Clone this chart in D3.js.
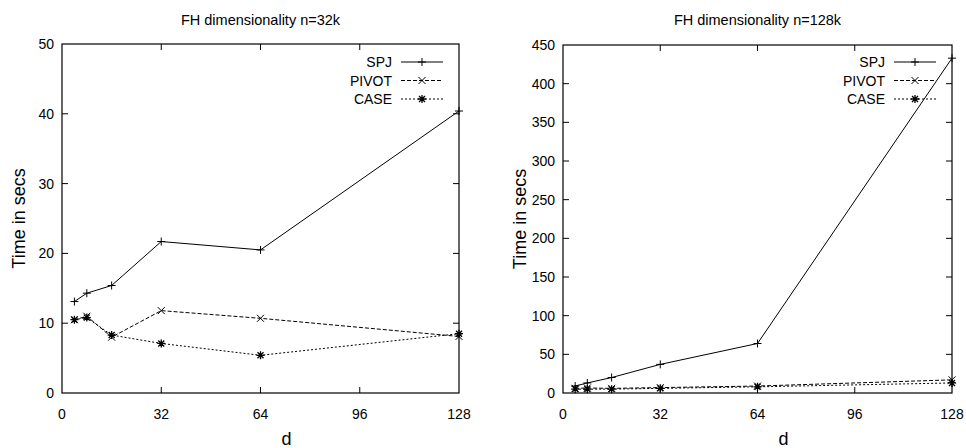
<!DOCTYPE html>
<html>
<head>
<meta charset="utf-8">
<script src="https://cdn.jsdelivr.net/npm/d3@7"></script>
<style>
  body { margin: 0; background: #fff; }
  svg { display: block; font-family: "Liberation Sans", Arial, sans-serif; }
</style>
</head>
<body>
<div id="chart"></div>
<script>
// Data
const dims = [4, 8, 16, 32, 64, 128];
const xTicks = [0, 32, 64, 96, 128];
const seriesNames = ["SPJ", "PIVOT", "CASE"];

const spj32 = [13.1, 14.3, 15.4, 21.7, 20.5, 40.4];
const pivot32 = [10.5, 11.0, 8.0, 11.8, 10.7, 8.1];
const case32 = [10.5, 10.8, 8.3, 7.1, 5.4, 8.5];
const yTicks32 = [0, 10, 20, 30, 40, 50];

const spj128 = [9, 13, 20, 37, 64, 433];
const pivot128 = [6, 6.5, 6, 7, 9, 17];
const case128 = [5, 5, 5, 6, 8, 13];
const yTicks128 = [0, 50, 100, 150, 200, 250, 300, 350, 400, 450];

const W = 966, H = 448;
const svg = d3.select("#chart").append("svg")
    .attr("width", W)
    .attr("height", H);

// dash styles / marker per series (gnuplot default look)
const dashes = ["none", "4,2", "2,2"];
const markers = ["plus", "cross", "star"];

function marker(g, kind, x, y) {
    const s = 4;
    const p = d3.path();
    if (kind === "plus" || kind === "star") {
        p.moveTo(x - s, y); p.lineTo(x + s, y);
        p.moveTo(x, y - s); p.lineTo(x, y + s);
    }
    if (kind === "cross" || kind === "star") {
        const c = kind === "star" ? 3 : 3.5;
        p.moveTo(x - c, y - c); p.lineTo(x + c, y + c);
        p.moveTo(x - c, y + c); p.lineTo(x + c, y - c);
    }
    g.append("path")
        .attr("d", p.toString())
        .attr("stroke", "#000")
        .attr("stroke-width", kind === "star" ? 1.3 : 1)
        .attr("fill", "none");
}

function panel(cfg) {
    const x = d3.scaleLinear().domain([0, 128]).range([cfg.left, cfg.right]);
    const y = d3.scaleLinear().domain([0, cfg.yMax]).range([cfg.bottom, cfg.top]);
    const g = svg.append("g");

    // frame
    g.append("rect")
        .attr("x", cfg.left).attr("y", cfg.top)
        .attr("width", cfg.right - cfg.left)
        .attr("height", cfg.bottom - cfg.top)
        .attr("fill", "none")
        .attr("stroke", "#000")
        .attr("stroke-width", 1.2);

    const tl = 6;
    // y ticks (mirrored)
    cfg.yTicks.forEach(t => {
        if (t > 0 && t < cfg.yMax) {
            g.append("line").attr("x1", cfg.left).attr("x2", cfg.left + tl)
                .attr("y1", y(t)).attr("y2", y(t)).attr("stroke", "#000");
            g.append("line").attr("x1", cfg.right).attr("x2", cfg.right - tl)
                .attr("y1", y(t)).attr("y2", y(t)).attr("stroke", "#000");
        }
        g.append("text")
            .attr("x", cfg.left - 8)
            .attr("y", y(t) + 5)
            .attr("text-anchor", "end")
            .attr("font-size", 14)
            .text(t);
    });
    // x ticks (mirrored)
    xTicks.forEach(t => {
        if (t > 0 && t < 128) {
            g.append("line").attr("x1", x(t)).attr("x2", x(t))
                .attr("y1", cfg.bottom).attr("y2", cfg.bottom - tl).attr("stroke", "#000");
            g.append("line").attr("x1", x(t)).attr("x2", x(t))
                .attr("y1", cfg.top).attr("y2", cfg.top + tl).attr("stroke", "#000");
        }
        g.append("text")
            .attr("x", x(t))
            .attr("y", cfg.bottom + 26)
            .attr("text-anchor", "middle")
            .attr("font-size", 14)
            .text(t);
    });

    // titles and axis labels
    g.append("text")
        .attr("x", (cfg.left + cfg.right) / 2)
        .attr("y", 25)
        .attr("text-anchor", "middle")
        .attr("font-size", 14.5)
        .text(cfg.title);
    g.append("text")
        .attr("x", (cfg.left + cfg.right) / 2 + 26)
        .attr("y", 445)
        .attr("text-anchor", "middle")
        .attr("font-size", 18)
        .text("d");
    g.append("text")
        .attr("transform", `translate(${cfg.left - 37},${(cfg.top + cfg.bottom) / 2}) rotate(-90)`)
        .attr("text-anchor", "middle")
        .attr("font-size", 18)
        .text("Time in secs");

    // series
    const line = d3.line()
        .x((d, i) => x(dims[i]))
        .y(d => y(d));
    cfg.series.forEach((vals, k) => {
        g.append("path")
            .datum(vals)
            .attr("d", line)
            .attr("fill", "none")
            .attr("stroke", "#000")
            .attr("stroke-width", 1)
            .attr("stroke-dasharray", dashes[k]);
        vals.forEach((v, i) => marker(g, markers[k], x(dims[i]), y(v)));
    });

    // legend
    seriesNames.forEach((name, k) => {
        const ly = 62 + k * 18.5;
        const lx = cfg.right - 67;
        g.append("text")
            .attr("x", lx)
            .attr("y", ly + 5)
            .attr("text-anchor", "end")
            .attr("font-size", 14)
            .text(name);
        g.append("line")
            .attr("x1", lx + 9).attr("x2", lx + 51)
            .attr("y1", ly).attr("y2", ly)
            .attr("stroke", "#000")
            .attr("stroke-dasharray", dashes[k]);
        marker(g, markers[k], lx + 30, ly);
    });
}

panel({
    left: 62, right: 459, top: 44, bottom: 393,
    yMax: 50, yTicks: yTicks32,
    title: "FH dimensionality n=32k",
    series: [spj32, pivot32, case32]
});
panel({
    left: 563, right: 952, top: 45, bottom: 393,
    yMax: 450, yTicks: yTicks128,
    title: "FH dimensionality n=128k",
    series: [spj128, pivot128, case128]
});
</script>
</body>
</html>
